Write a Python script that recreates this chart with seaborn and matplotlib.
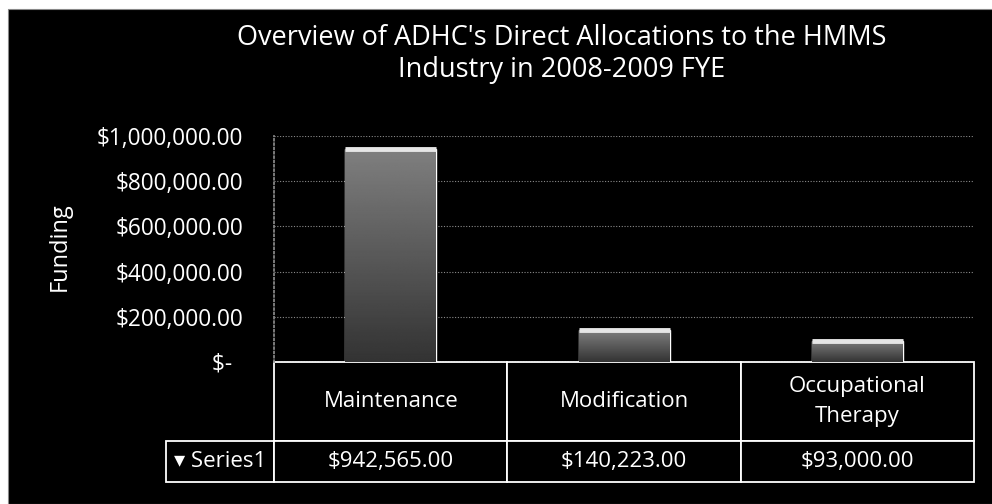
import matplotlib
matplotlib.use("Agg")
import matplotlib.pyplot as plt
from matplotlib.patches import Rectangle
from matplotlib.ticker import FuncFormatter, MultipleLocator
import seaborn as sns
import numpy as np

# Data -------------------------------------------------------------------
categories = ["Maintenance", "Modification", "Occupational\nTherapy"]
funding = [942565.00, 140223.00, 93000.00]
series_name = "Series1"
title = "Overview of ADHC's Direct Allocations to the HMMS\nIndustry in 2008-2009 FYE"
y_label = "Funding"

sns.set_theme(style="white")
plt.rcParams['font.family'] = ['Open Sans', 'DejaVu Sans']

W, H = 992, 504
fig = plt.figure(figsize=(W / 100, H / 100), dpi=100, facecolor="white")
# black chart background (scan has a thin white margin top / left)
fig.patches.append(Rectangle((8 / W, 0), 1, 1 - 9 / H, transform=fig.transFigure,
                             facecolor="black", edgecolor="#888888", lw=0.8, zorder=-10))

ax_l, ax_r, ax_top, ax_bot = 274, 974, 136, 362
ax = fig.add_axes([ax_l / W, 1 - ax_bot / H, (ax_r - ax_l) / W, (ax_bot - ax_top) / H])
ax.set_facecolor("black")
ax.patch.set_alpha(0)

sns.barplot(x=categories, y=funding, color="#707070", width=0.39, ax=ax, zorder=3)

# gradient fill + bright top edge, like the Excel bevel
grad = np.linspace(0.5, 0.2, 256).reshape(-1, 1)
for p in ax.patches:
    x0, x1 = p.get_x(), p.get_x() + p.get_width()
    top = p.get_height()
    im = ax.imshow(grad, extent=[x0, x1, 0, top], aspect="auto", cmap="gray",
                   vmin=0, vmax=1, origin="upper", zorder=3)
    im.set_clip_path(p)
    p.set_facecolor("none")
    ax.plot([x0, x1], [top, top], color="#e6e6e6", lw=3.5, solid_capstyle="butt", zorder=4)
ax.set_xlim(-0.5, 2.5)
ax.set_ylim(0, 1_000_000)

ax.yaxis.set_major_locator(MultipleLocator(200_000))
ax.yaxis.set_major_formatter(FuncFormatter(lambda v, _: "$-  " if v == 0 else f"${v:,.2f}"))
ax.grid(axis="y", color="#8a8a8a", linestyle=(0, (1, 1.5)), lw=0.8, zorder=0)
ax.tick_params(axis="y", colors="white", labelsize=16.3, length=0, pad=22)
ax.tick_params(axis="x", length=0, labelbottom=False)
for side in ["top", "right", "bottom"]:
    ax.spines[side].set_visible(False)
ax.spines["left"].set_color("#8a8a8a")
ax.spines["left"].set_linestyle((0, (1, 1.5)))
ax.set_xlabel("")
ax.set_ylabel("")

# data table under the plot: first column holds the legend key
header = [""] + categories
values = ["\u25be " + series_name] + [f"${v:,.2f}" for v in funding]
tbl = ax.table(cellText=[header, values], cellLoc="center",
               bbox=[-108 / 700, -(482 - 362) / 226, 808 / 700, (482 - 362) / 226])
tbl.auto_set_font_size(False)
tbl.set_fontsize(16)
for (r, c), cell in tbl.get_celld().items():
    cell.set_facecolor("black")
    cell.set_edgecolor("white")
    cell.set_linewidth(1.3)
    cell.set_text_props(color="white", linespacing=1.55)
    cell.set_width(108 if c == 0 else 233)
    cell.set_height(79 if r == 0 else 41)
tbl[0, 0].visible_edges = ""
tbl[0, 0].set_facecolor("none")

fig.text(562 / W, 1 - 54 / H, title, ha="center", va="center", color="white",
         fontsize=19.5, linespacing=1.2)
fig.text(60 / W, 1 - 247 / H, y_label, ha="center", va="center", color="white",
         fontsize=17, rotation=90)

fig.savefig("out.png", dpi=100, facecolor=fig.get_facecolor())
